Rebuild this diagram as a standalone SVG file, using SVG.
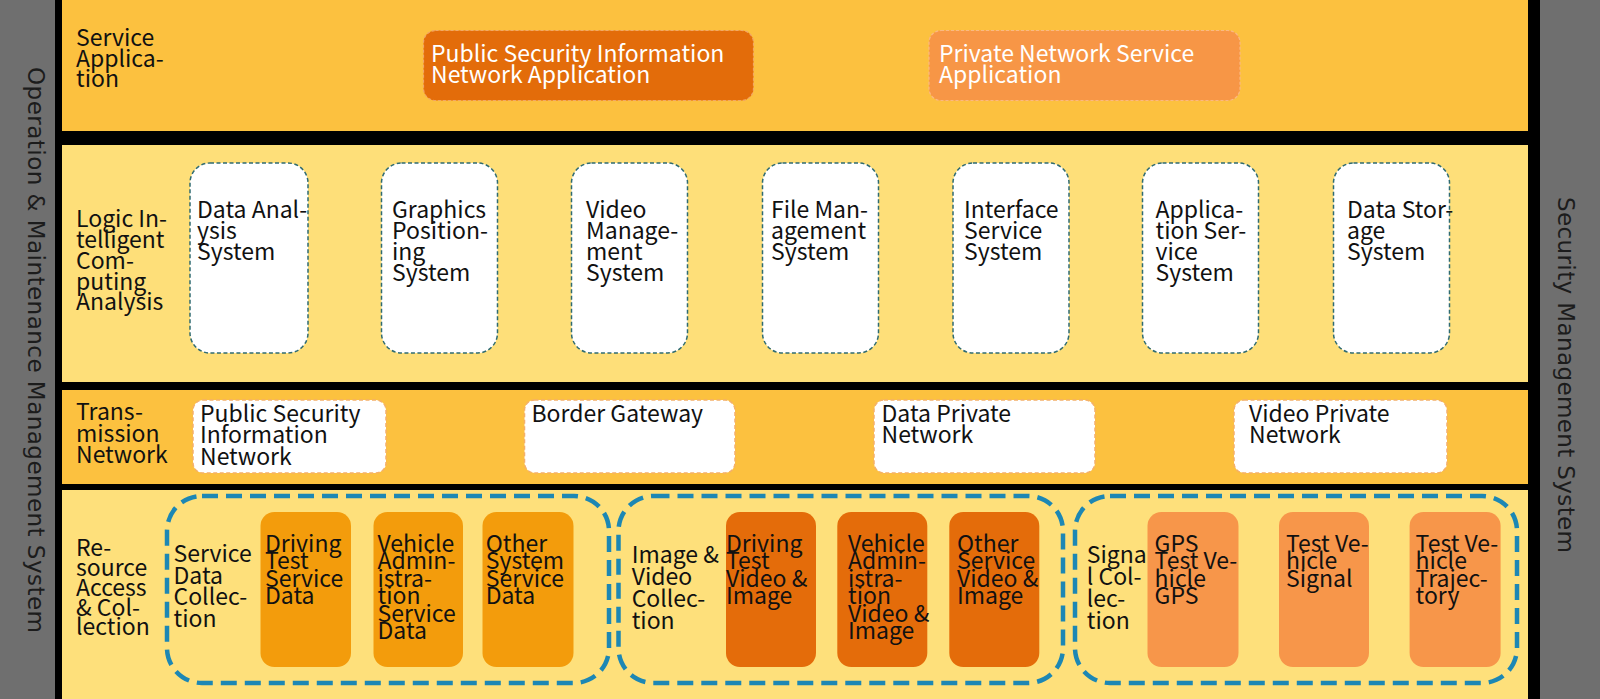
<svg xmlns="http://www.w3.org/2000/svg" width="1600" height="699" viewBox="0 0 1600 699">
<style>
.t{font-family:"Noto Sans CJK SC","Noto Sans",sans-serif;font-size:23px;fill:#111}
.w{fill:#fff}
.side{font-family:"DejaVu Sans",sans-serif;font-size:23px;fill:#1c1c1c}
.svcA{fill:#E36C0A;stroke:#F2A766;stroke-width:1.2;stroke-dasharray:3 2}
.svcB{fill:#F79646;stroke:#FBB882;stroke-width:1.2;stroke-dasharray:3 2}
.logic{fill:#fff;stroke:#2F6B72;stroke-width:1.5;stroke-dasharray:4 2.5}
.net{fill:#fff;stroke:#F4B06A;stroke-width:1.5;stroke-dasharray:4 2.5}
.grp{fill:none;stroke:#1D87B4;stroke-width:4.5;stroke-dasharray:16 8}
.c1{fill:#F39C0C}
.c2{fill:#E46C0A}
.c3{fill:#F7964A}
</style>
<rect x="0" y="0" width="1600" height="699" fill="#000"/>
<g id="side-left">
<rect x="0" y="0" width="55" height="699" fill="#6F6F6F"/>
<text class="side" transform="translate(28,67) rotate(90)" textLength="566" lengthAdjust="spacing">Operation &amp; Maintenance Management System</text>
</g>
<g id="side-right">
<rect x="1540" y="0" width="60" height="699" fill="#6F6F6F"/>
<text class="side" transform="translate(1558,197) rotate(90)" textLength="356" lengthAdjust="spacing">Security Management System</text>
</g>
<g id="layer-service">
<rect x="62" y="0" width="1466" height="131" fill="#FCC13F"/>
<text class="t" x="76" y="46">Service</text>
<text class="t" x="76" y="66.5">Applica-</text>
<text class="t" x="76" y="87">tion</text>
</g>
<g id="layer-logic">
<rect x="62" y="145" width="1466" height="237" fill="#FEDF79"/>
<text class="t" x="76" y="227">Logic In-</text>
<text class="t" x="76" y="248">telligent</text>
<text class="t" x="76" y="269">Com-</text>
<text class="t" x="76" y="289.5">puting</text>
<text class="t" x="76" y="310">Analysis</text>
</g>
<g id="layer-transmission">
<rect x="62" y="390" width="1466" height="94" fill="#FCC13F"/>
<text class="t" x="76" y="420">Trans-</text>
<text class="t" x="76" y="441.5">mission</text>
<text class="t" x="76" y="463">Network</text>
</g>
<g id="layer-resource">
<rect x="62" y="490" width="1466" height="209" fill="#FEE07B"/>
<text class="t" x="76" y="556">Re-</text>
<text class="t" x="76" y="576">source</text>
<text class="t" x="76" y="596">Access</text>
<text class="t" x="76" y="615.5">&amp; Col-</text>
<text class="t" x="76" y="635">lection</text>
</g>
<g id="psi-app">
<rect class="svcA" x="423.5" y="30.5" width="330" height="70" rx="12"/>
<text class="t w" x="431" y="61.5">Public Security Information</text>
<text class="t w" x="431" y="82.5">Network Application</text>
</g>
<g id="pn-app">
<rect class="svcB" x="929" y="30.5" width="311" height="70" rx="12"/>
<text class="t w" x="939" y="61.5">Private Network Service</text>
<text class="t w" x="939" y="82.5">Application</text>
</g>
<g id="data-analysis">
<rect class="logic" x="190" y="163" width="118" height="190" rx="20"/>
<text class="t" x="197" y="218">Data Anal-</text>
<text class="t" x="197" y="239">ysis</text>
<text class="t" x="197" y="260">System</text>
</g>
<g id="graphics-positioning">
<rect class="logic" x="381.5" y="163" width="116" height="190" rx="20"/>
<text class="t" x="392" y="218">Graphics</text>
<text class="t" x="392" y="239">Position-</text>
<text class="t" x="392" y="260">ing</text>
<text class="t" x="392" y="281">System</text>
</g>
<g id="video-management">
<rect class="logic" x="571.5" y="163" width="116" height="190" rx="20"/>
<text class="t" x="586" y="218">Video</text>
<text class="t" x="586" y="239">Manage-</text>
<text class="t" x="586" y="260">ment</text>
<text class="t" x="586" y="281">System</text>
</g>
<g id="file-management">
<rect class="logic" x="762.5" y="163" width="116" height="190" rx="20"/>
<text class="t" x="771" y="218">File Man-</text>
<text class="t" x="771" y="239">agement</text>
<text class="t" x="771" y="260">System</text>
</g>
<g id="interface-service">
<rect class="logic" x="953" y="163" width="116" height="190" rx="20"/>
<text class="t" x="964" y="218">Interface</text>
<text class="t" x="964" y="239">Service</text>
<text class="t" x="964" y="260">System</text>
</g>
<g id="application-service">
<rect class="logic" x="1142.5" y="163" width="116" height="190" rx="20"/>
<text class="t" x="1155.5" y="218">Applica-</text>
<text class="t" x="1155.5" y="239">tion Ser-</text>
<text class="t" x="1155.5" y="260">vice</text>
<text class="t" x="1155.5" y="281">System</text>
</g>
<g id="data-storage">
<rect class="logic" x="1333.5" y="163" width="116" height="190" rx="20"/>
<text class="t" x="1347" y="218">Data Stor-</text>
<text class="t" x="1347" y="239">age</text>
<text class="t" x="1347" y="260">System</text>
</g>
<g id="psi-network">
<rect class="net" x="193" y="400" width="193" height="73" rx="10"/>
<text class="t" x="200" y="421.5">Public Security</text>
<text class="t" x="200" y="443">Information</text>
<text class="t" x="200" y="464.5">Network</text>
</g>
<g id="border-gateway">
<rect class="net" x="524.5" y="400" width="210.5" height="73" rx="10"/>
<text class="t" x="531.5" y="421.5">Border Gateway</text>
</g>
<g id="data-private-network">
<rect class="net" x="874" y="400" width="221" height="73" rx="10"/>
<text class="t" x="881.5" y="421.5">Data Private</text>
<text class="t" x="881.5" y="443">Network</text>
</g>
<g id="video-private-network">
<rect class="net" x="1234" y="400" width="213" height="73" rx="10"/>
<text class="t" x="1249" y="421.5">Video Private</text>
<text class="t" x="1249" y="443">Network</text>
</g>
<g id="service-data-collection">
<rect class="grp" x="167" y="496" width="442" height="187" rx="35"/>
<text class="t" x="173.5" y="562">Service</text>
<text class="t" x="173.5" y="583.5">Data</text>
<text class="t" x="173.5" y="605">Collec-</text>
<text class="t" x="173.5" y="627">tion</text>
</g>
<g id="driving-test-service-data">
<rect class="c1" x="260.5" y="512" width="90.5" height="155" rx="14"/>
<text class="t" x="265" y="551.7">Driving</text>
<text class="t" x="265" y="569.2">Test</text>
<text class="t" x="265" y="586.7">Service</text>
<text class="t" x="265" y="604.2">Data</text>
</g>
<g id="vehicle-admin-service-data">
<rect class="c1" x="373.5" y="512" width="89.5" height="155" rx="14"/>
<text class="t" x="377.5" y="551.7">Vehicle</text>
<text class="t" x="377.5" y="569.2">Admin-</text>
<text class="t" x="377.5" y="586.7">istra-</text>
<text class="t" x="377.5" y="604.2">tion</text>
<text class="t" x="377.5" y="621.7">Service</text>
<text class="t" x="377.5" y="639.2">Data</text>
</g>
<g id="other-system-service-data">
<rect class="c1" x="482.5" y="512" width="91" height="155" rx="14"/>
<text class="t" x="485.7" y="551.7">Other</text>
<text class="t" x="485.7" y="569.2">System</text>
<text class="t" x="485.7" y="586.7">Service</text>
<text class="t" x="485.7" y="604.2">Data</text>
</g>
<g id="image-video-collection">
<rect class="grp" x="618.5" y="496" width="444.5" height="187" rx="35"/>
<text class="t" x="631.7" y="563">Image &amp;</text>
<text class="t" x="631.7" y="585">Video</text>
<text class="t" x="631.7" y="607">Collec-</text>
<text class="t" x="631.7" y="629">tion</text>
</g>
<g id="driving-test-video-image">
<rect class="c2" x="726" y="512" width="90" height="155" rx="14"/>
<text class="t" x="726" y="551.7">Driving</text>
<text class="t" x="726" y="569.2">Test</text>
<text class="t" x="726" y="586.7">Video &amp;</text>
<text class="t" x="726" y="604.2">Image</text>
</g>
<g id="vehicle-admin-video-image">
<rect class="c2" x="837.3" y="512" width="90" height="155" rx="14"/>
<text class="t" x="848" y="551.7">Vehicle</text>
<text class="t" x="848" y="569.2">Admin-</text>
<text class="t" x="848" y="586.7">istra-</text>
<text class="t" x="848" y="604.2">tion</text>
<text class="t" x="848" y="621.7">Video &amp;</text>
<text class="t" x="848" y="639.2">Image</text>
</g>
<g id="other-service-video-image">
<rect class="c2" x="949.3" y="512" width="90" height="155" rx="14"/>
<text class="t" x="957" y="551.7">Other</text>
<text class="t" x="957" y="569.2">Service</text>
<text class="t" x="957" y="586.7">Video &amp;</text>
<text class="t" x="957" y="604.2">Image</text>
</g>
<g id="signal-collection">
<rect class="grp" x="1075" y="496" width="442" height="187" rx="35"/>
<text class="t" x="1086.8" y="563">Signa</text>
<text class="t" x="1086.8" y="585">l Col-</text>
<text class="t" x="1086.8" y="607">lec-</text>
<text class="t" x="1086.8" y="629">tion</text>
</g>
<g id="gps-test-vehicle-gps">
<rect class="c3" x="1147.5" y="512" width="91" height="155" rx="14"/>
<text class="t" x="1154.6" y="551.7">GPS</text>
<text class="t" x="1154.6" y="569.2">Test Ve-</text>
<text class="t" x="1154.6" y="586.7">hicle</text>
<text class="t" x="1154.6" y="604.2">GPS</text>
</g>
<g id="test-vehicle-signal">
<rect class="c3" x="1279" y="512" width="90" height="155" rx="14"/>
<text class="t" x="1286" y="551.7">Test Ve-</text>
<text class="t" x="1286" y="569.2">hicle</text>
<text class="t" x="1286" y="586.7">Signal</text>
</g>
<g id="test-vehicle-trajectory">
<rect class="c3" x="1409.6" y="512" width="91" height="155" rx="14"/>
<text class="t" x="1415.6" y="551.7">Test Ve-</text>
<text class="t" x="1415.6" y="569.2">hicle</text>
<text class="t" x="1415.6" y="586.7">Trajec-</text>
<text class="t" x="1415.6" y="604.2">tory</text>
</g>
</svg>
